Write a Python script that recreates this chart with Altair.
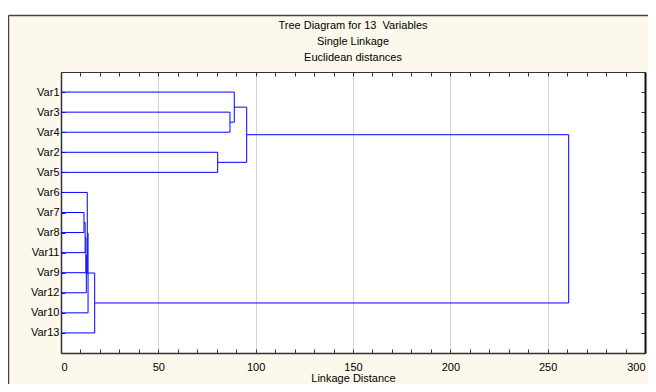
import altair as alt
import pandas as pd

# ---- data ----
leaves = ["Var1", "Var3", "Var4", "Var2", "Var5", "Var6", "Var7",
          "Var8", "Var11", "Var9", "Var12", "Var10", "Var13"]
merge_left = ["Var3", "Var1", "Var2", "M1", "Var7", "M4", "M5", "M6", "Var6", "M8", "M9", "M3"]
merge_right = ["Var4", "M0", "Var5", "M2", "Var8", "Var11", "Var9", "Var12", "M7", "Var10", "Var13", "M10"]
merge_height = [86.8, 89.0, 80.5, 95.4, 11.8, 12.4, 12.8, 13.0, 13.5, 13.9, 17.3, 260.8]

x_ticks = list(range(0, 301, 10))
title_lines = ["Tree Diagram for 13\u00a0 Variables", "Single Linkage", "Euclidean distances"]
x_title = "Linkage Distance"

# ---- build dendrogram segments from the merge table ----
pos = {name: i + 1 for i, name in enumerate(leaves)}
hgt = {name: 0.0 for name in leaves}
segs = []
for i, (a, b, h) in enumerate(zip(merge_left, merge_right, merge_height)):
    for c in (a, b):
        segs.append({"x": hgt[c], "x2": h, "y": pos[c], "y2": pos[c]})
    segs.append({"x": h, "x2": h, "y": pos[a], "y2": pos[b]})
    pos[f"M{i}"] = (pos[a] + pos[b]) / 2
    hgt[f"M{i}"] = h
df = pd.DataFrame(segs)

FONT = "Liberation Sans"
label_arr = "[" + ",".join(f"'{v}'" for v in leaves) + "]"

xscale = alt.Scale(domain=[0, 300], nice=False, zero=False)
yscale = alt.Scale(domain=[0, len(leaves) + 1], reverse=True, nice=False, zero=False)

x_axis_bottom = alt.Axis(
    values=x_ticks, title=x_title, titleFont=FONT, titleFontSize=11, titleFontWeight="normal",
    titleColor="black", titlePadding=0,
    labelExpr="datum.value % 50 == 0 ? datum.label : ''", labelFont=FONT, labelFontSize=11,
    labelColor="black", labelPadding=12, labelFlush=3,
    tickSize={"expr": "-4"}, tickColor="#333333", tickWidth=1,
    grid=True, gridColor="#d4d4d4", gridWidth=1,
    gridOpacity=alt.condition("datum.value % 50 == 0", alt.value(1), alt.value(0)),
    domainColor="#333333", domainWidth=1.5,
)
y_axis_left = alt.Axis(
    values=list(range(1, len(leaves) + 1)), title=None,
    labelExpr=f"{label_arr}[datum.value - 1]", labelFont=FONT, labelFontSize=11,
    labelColor="black", labelPadding=6,
    tickSize={"expr": "-4"}, tickColor="#333333",
    grid=False, domainColor="#333333", domainWidth=1.5,
)
x_axis_top = alt.Axis(
    orient="top", values=x_ticks, title=None, labels=False,
    tickSize={"expr": "-4"}, tickColor="#333333", grid=False,
    domainColor="#333333", domainWidth=1,
)
y_axis_right = alt.Axis(
    orient="right", values=list(range(1, len(leaves) + 1)), title=None, labels=False,
    tickSize={"expr": "-4"}, tickColor="#333333", grid=False,
    domainColor="#111111", domainWidth=2,
)

one = alt.Data(values=[{}])

strip = alt.Chart(one).mark_rect(color="white").encode(
    x=alt.value(-53), x2=alt.value(587), y=alt.value(-64), y2=alt.value(-57)
)
frame_left = alt.Chart(one).mark_rule(color="#444444", strokeWidth=1.5).encode(
    x=alt.value(-52.5), y=alt.value(-56.5), y2=alt.value(312)
)
frame_top = alt.Chart(one).mark_rule(color="#444444", strokeWidth=1.5).encode(
    x=alt.value(-52.5), x2=alt.value(587), y=alt.value(-56.5)
)

dendro = alt.Chart(df).mark_rule(color="#0000ff", strokeWidth=1).encode(
    x=alt.X("x:Q", scale=xscale, axis=x_axis_bottom),
    x2="x2:Q",
    y=alt.Y("y:Q", scale=yscale, axis=y_axis_left),
    y2="y2:Q",
)
dendro2 = alt.Chart(df).mark_rule(color="#0000ff", strokeWidth=1, opacity=0).encode(
    x=alt.X("x:Q", scale=xscale, axis=x_axis_top),
    x2="x2:Q",
    y=alt.Y("y:Q", scale=yscale, axis=y_axis_right),
    y2="y2:Q",
)

chart = alt.layer(strip, frame_left, frame_top, dendro, dendro2).resolve_axis(
    x="independent", y="independent"
).properties(
    width=584, height=281,
    autosize=alt.AutoSizeParams(type="none"),
    padding={"left": 53, "top": 64, "right": 3, "bottom": 31},
    title=alt.TitleParams(title_lines, font=FONT, fontSize=11, fontWeight="normal",
                          color="black", lineHeight=16, offset=0, dy=55, anchor="middle"),
).configure(
    font=FONT, background="#fdf8ec"
).configure_view(
    fill="white", stroke="transparent"
)

chart.save("out.html", embed_options={"renderer": "svg", "actions": False})
